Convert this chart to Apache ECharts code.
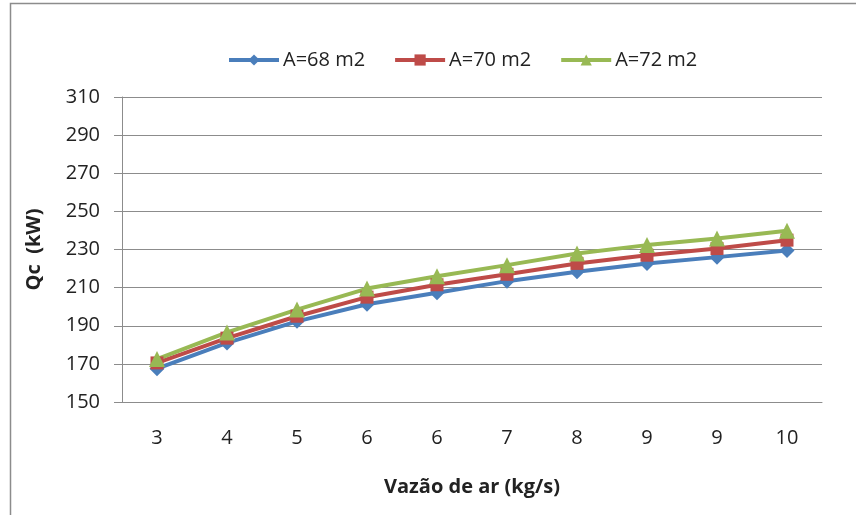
<!DOCTYPE html>
<html><head><meta charset="utf-8">
<script src="https://cdn.jsdelivr.net/npm/echarts@6/dist/echarts.min.js"></script>
<style>html,body{margin:0;padding:0;background:#fff}#c{width:856px;height:515px}</style>
</head><body><div id="c"></div>
<script>
const categories = ['3','4','5','6','6','7','8','9','9','10'];
const seriesNames = ['A=68 m2','A=70 m2','A=72 m2'];
const a68 = [167.5, 181, 192.3, 201.3, 207.3, 213.4, 218.3, 222.7, 226, 229.5];
const a70 = [170.5, 183.5, 195, 205, 211.5, 217, 222.7, 227, 230.5, 234.9];
const a72 = [172.5, 186.5, 198.5, 209.5, 216, 221.8, 227.9, 232.3, 235.8, 239.8];
const yTicks = {min:150, max:310, interval:20};

const font = 'Open Sans, Noto Sans, sans-serif';
const colors = ['#4A7EBB','#BE4B48','#98B954'];
const symbols = ['diamond','rect','triangle'];
const sizes = [15,13,16];
const chart = echarts.init(document.getElementById('c'));
chart.setOption({
  animation:false,
  color: colors,
  graphic:[{type:'rect', shape:{x:10.5,y:3.5,width:900,height:600}, style:{fill:'none', stroke:'#8c8c8c', lineWidth:1.5}, z:-1}],
  legend:{top:45, left:222, itemWidth:50, itemHeight:14, itemGap:28,
    lineStyle:{width:4},
    textStyle:{fontFamily:font, fontSize:20, color:'#222', padding:[0,0,0,-1]},
    data: seriesNames},
  grid:{left:122, right:34, top:97, bottom:113},
  xAxis:{type:'category', data:categories, boundaryGap:true,
    axisLine:{lineStyle:{color:'#8c8c8c', width:1}},
    axisTick:{show:false},
    axisLabel:{fontFamily:font, fontSize:20, color:'#222', margin:26},
    name:'Vazão de ar (kg/s)', nameLocation:'middle', nameGap:75,
    nameTextStyle:{fontFamily:font, fontSize:20, fontWeight:'bold', color:'#222'}},
  yAxis:{type:'value', min:yTicks.min, max:yTicks.max, interval:yTicks.interval,
    axisLine:{show:true, lineStyle:{color:'#8c8c8c'}},
    axisTick:{show:true, length:8, lineStyle:{color:'#8c8c8c'}},
    splitLine:{lineStyle:{color:'#8c8c8c', width:1}},
    axisLabel:{fontFamily:font, fontSize:20, color:'#222', margin:22},
    name:'Qc  (kW)', nameLocation:'middle', nameGap:78, nameRotate:90,
    nameTextStyle:{fontFamily:font, fontSize:20, fontWeight:'bold', color:'#222'}},
  series:[a68,a70,a72].map((d,i)=>({
    name:seriesNames[i], type:'line', data:d, symbol:symbols[i], symbolSize:sizes[i],
    lineStyle:{width:4, color:colors[i]}, itemStyle:{color:colors[i]}, showAllSymbol:true
  }))
});
</script></body></html>
